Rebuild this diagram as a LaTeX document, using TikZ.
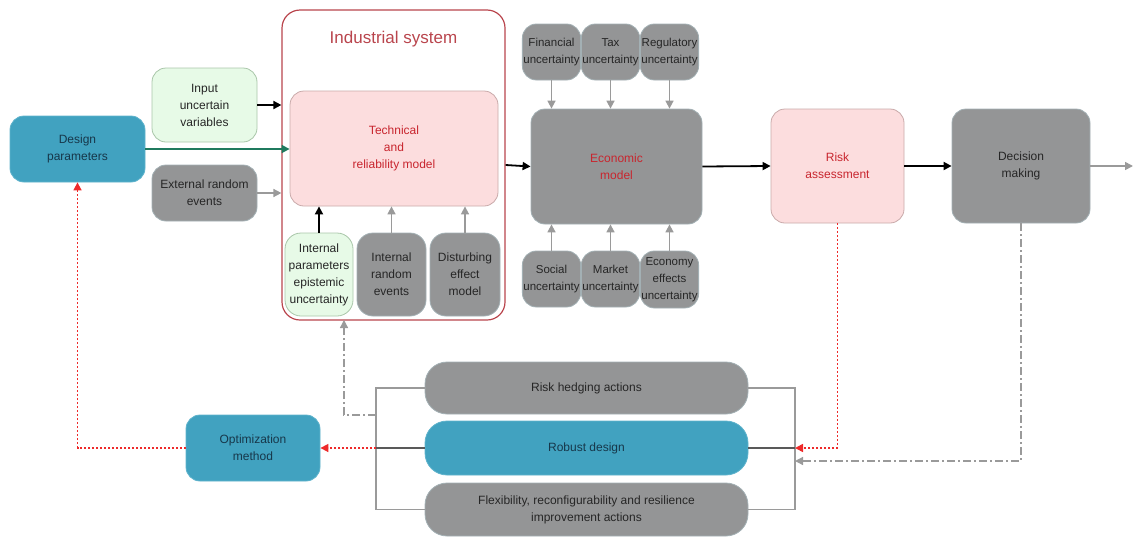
\documentclass[tikz,border=0pt]{standalone}
\usepackage{fontspec}
\setmainfont{Liberation Sans}
\usetikzlibrary{arrows.meta}
\definecolor{cTeal}{HTML}{41A2C0}
\definecolor{cTealEdge}{HTML}{5FB3CC}
\definecolor{cTealText}{HTML}{17374A}
\definecolor{cGreen}{HTML}{E7FAE7}
\definecolor{cGreenEdge}{HTML}{A9C6A9}
\definecolor{cPink}{HTML}{FCDDDE}
\definecolor{cPinkEdge}{HTML}{C9AAAA}
\definecolor{cGrey}{HTML}{949596}
\definecolor{cGreyEdge}{HTML}{A3B0B4}
\definecolor{cRedText}{HTML}{C8252E}
\definecolor{cFrame}{HTML}{B9454D}
\definecolor{cArrowGrey}{HTML}{9A9A9A}
\definecolor{cDotRed}{HTML}{EE2A2A}
\definecolor{cDesignArrow}{HTML}{1F7A5E}

\begin{document}
\begin{tikzpicture}[x=1pt,y=-1pt,
		every node/.style={align=center,inner sep=1pt,font=\fontsize{12}{17}\selectfont},
		box/.style={rounded corners=14pt,line width=0.8pt},
		tealbox/.style={box,fill=cTeal,draw=cTealEdge,text=cTealText},
		greenbox/.style={box,fill=cGreen,draw=cGreenEdge,text=black!85},
		pinkbox/.style={box,fill=cPink,draw=cPinkEdge,text=cRedText},
		greybox/.style={box,fill=cGrey,draw=cGreyEdge,text=black!85},
		smallbox/.style={greybox,minimum height=56pt,font=\fontsize{11.5}{17}\selectfont},
		blackarrow/.style={line width=1.8pt,-{Triangle[length=8pt,width=8pt]}},
		greyarrow/.style={line width=1.6pt,draw=cArrowGrey,-{Triangle[length=8pt,width=8pt]}},
		redarrow/.style={line width=1.6pt,draw=cDotRed,dash pattern=on 2pt off 2pt,-{Triangle[length=8pt,width=8pt]}},
		dashdot/.style={line width=1.3pt,draw=cArrowGrey,dash pattern=on 8pt off 3pt on 2pt off 3pt,-{Triangle[length=8pt,width=8pt]}},
		bracket/.style={line width=1.4pt,draw=cArrowGrey}]
	\useasboundingbox (0,0) rectangle (1133,536);

	\node[tealbox,minimum width=135pt,minimum height=66pt] (design) at (77.5,149) {Design\\parameters};
	\node[greenbox,minimum width=105pt,minimum height=74pt] (input) at (204.5,105) {Input\\uncertain\\variables};
	\node[greybox,minimum width=105pt,minimum height=56pt] (extev) at (204.5,193) {External random\\events};

	\node[box,draw=cFrame,line width=1.2pt,rounded corners=18pt,minimum width=223pt,minimum height=310pt] (indsys) at (393.5,165) {};
	\node[text=cFrame,font=\fontsize{17}{20}\selectfont] (systitle) at (393.5,39) {Industrial system};
	\node[pinkbox,minimum width=208pt,minimum height=115pt] (tech) at (394,148.5) {Technical\\and\\reliability model};
	\node[greenbox,minimum width=68pt,minimum height=83pt,rounded corners=16pt] (intpar) at (319,274.5) {Internal\\parameters\\epistemic\\uncertainty};
	\node[greybox,minimum width=69pt,minimum height=83pt,rounded corners=16pt] (intrand) at (391.5,274.5) {Internal\\random\\events};
	\node[greybox,minimum width=70pt,minimum height=83pt,rounded corners=16pt] (disturb) at (465,274.5) {Disturbing\\effect\\model};

	\node[greybox,minimum width=171pt,minimum height=115pt,text=cRedText] (econ) at (616.5,166.5) {Economic\\model};
	\node[smallbox,minimum width=57pt] (fin) at (551.5,52) {Financial\\uncertainty};
	\node[smallbox,minimum width=55pt] (tax) at (610.5,52) {Tax\\uncertainty};
	\node[smallbox,minimum width=57pt] (reg) at (669.5,52) {Regulatory\\uncertainty};
	\node[smallbox,minimum width=57pt] (soc) at (551.5,279) {Social\\uncertainty};
	\node[smallbox,minimum width=55pt] (mkt) at (610.5,279) {Market\\uncertainty};
	\node[smallbox,minimum width=57pt,minimum height=57pt] (ecoeff) at (669.5,279.5) {Economy\\effects\\uncertainty};

	\node[pinkbox,minimum width=133pt,minimum height=114pt] (risk) at (837.5,166) {Risk\\assessment};
	\node[greybox,minimum width=138pt,minimum height=114pt] (decision) at (1021,166) {Decision\\making};
	\coordinate (out) at (1133,166);

	\node[greybox,minimum width=323pt,minimum height=52pt,rounded corners=22pt] (hedge) at (586.5,388) {Risk hedging actions};
	\node[tealbox,minimum width=323pt,minimum height=54pt,rounded corners=22pt] (robust) at (586.5,448) {Robust design};
	\node[greybox,minimum width=323pt,minimum height=53pt,rounded corners=22pt] (flex) at (586.5,509.5) {Flexibility, reconfigurability and resilience\\improvement actions};
	\node[tealbox,minimum width=134pt,minimum height=66pt] (optim) at (253,448) {Optimization\\method};

	\coordinate (lb) at (376,448);
	\coordinate (rb) at (795,448);
	\coordinate (lbup) at (376,415);
	\coordinate (rblow) at (795,461);
	\coordinate (sysin) at (344,320);

	\draw[blackarrow] (input.east) -- (input.east -| indsys.west);
	\draw[line width=1.8pt,draw=cDesignArrow,-{Triangle[length=8pt,width=8pt]}] (design.east) -- (design.east -| tech.west);
	\draw[greyarrow] (extev.east) -- (extev.east -| indsys.west);
	\draw[blackarrow] (intpar.north) -- (intpar.north |- tech.south);
	\draw[greyarrow] (intrand.north) -- (intrand.north |- tech.south);
	\draw[greyarrow] (disturb.north) -- (disturb.north |- tech.south);

	\draw[blackarrow] (indsys.east) -- (econ.west);
	\draw[greyarrow] (fin.south) -- (fin.south |- econ.north);
	\draw[greyarrow] (tax.south) -- (tax.south |- econ.north);
	\draw[greyarrow] (reg.south) -- (reg.south |- econ.north);
	\draw[greyarrow] (soc.north) -- (soc.north |- econ.south);
	\draw[greyarrow] (mkt.north) -- (mkt.north |- econ.south);
	\draw[greyarrow] (ecoeff.north) -- (ecoeff.north |- econ.south);
	\draw[blackarrow] (econ.east) -- (risk.west);
	\draw[blackarrow] (risk.east) -- (decision.west);
	\draw[greyarrow] (decision.east) -- (out);

	\draw[bracket] (hedge.west) -| (lb) |- (flex.west);
	\draw[bracket] (hedge.east) -| (rb) |- (flex.east);
	\draw[line width=1.6pt,draw=black!65] (robust.west) -- (lb);
	\draw[line width=1.6pt,draw=black!65] (robust.east) -- (rb);

	\draw[redarrow] (lb) -- (optim.east);
	\draw[redarrow] (optim.west) -| (design.south);
	\draw[redarrow] (risk.south) |- (rb);
	\draw[dashdot] (decision.south) |- (rblow);
	\draw[dashdot] (lbup) -| (sysin);
\end{tikzpicture}
\end{document}
